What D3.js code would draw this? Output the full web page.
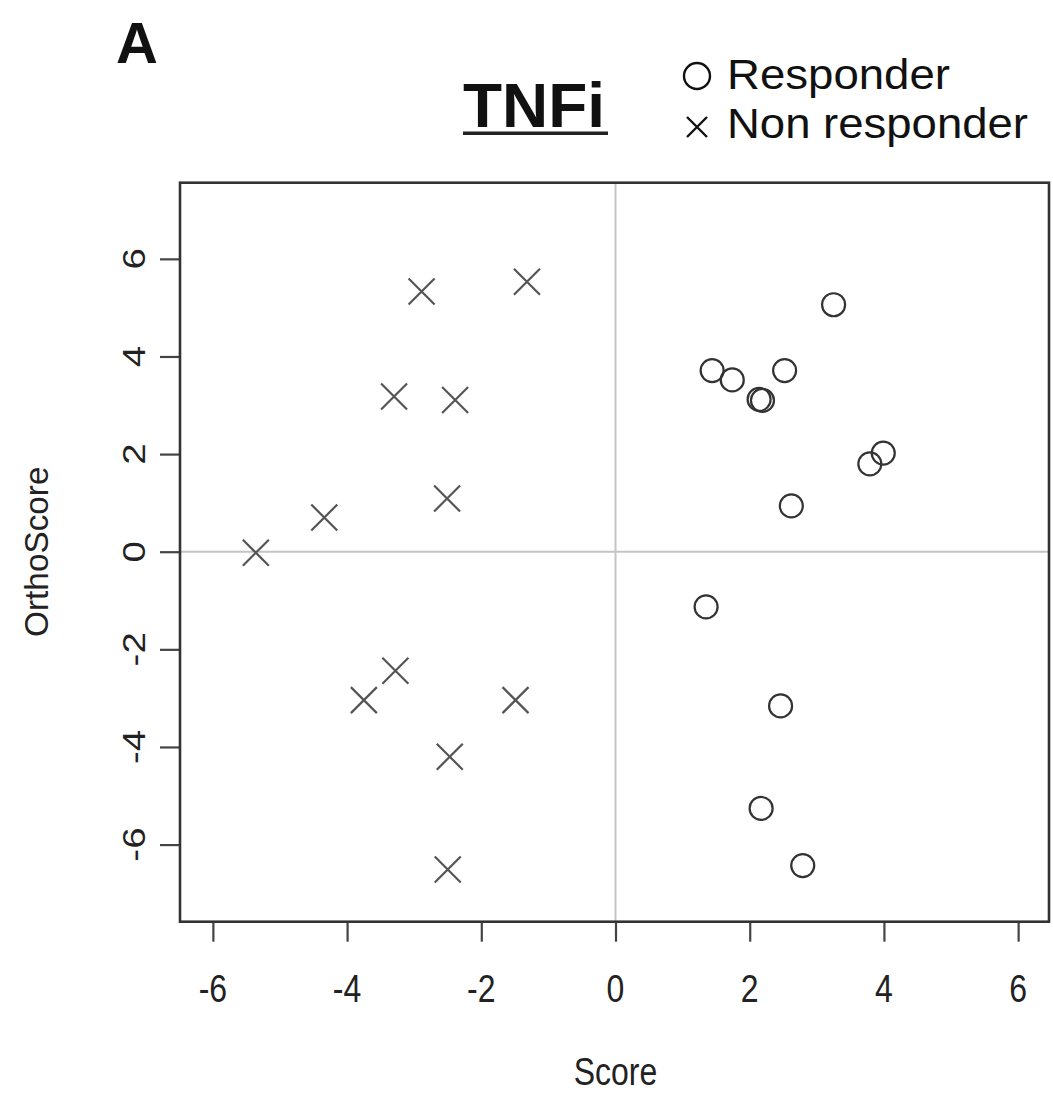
<!DOCTYPE html>
<html><head><meta charset="utf-8">
<script src="https://cdn.jsdelivr.net/npm/d3@7"></script>
<style>body{margin:0;background:#fff}svg{display:block}text{font-family:"Liberation Sans",Arial,sans-serif}</style>
</head><body>
<script>
const xTicks = [-6,-4,-2,0,2,4,6];
const yTicks = [-6,-4,-2,0,2,4,6];
const responderScore = [3.25,1.44,1.74,2.52,2.14,2.19,3.79,3.99,2.62,1.35,2.46,2.17,2.79];
const responderOrtho = [5.06,3.71,3.52,3.71,3.12,3.10,1.80,2.02,0.94,-1.13,-3.16,-5.26,-6.43];
const nonScore = [-2.89,-1.32,-3.30,-2.39,-2.51,-4.34,-5.36,-3.28,-3.75,-1.49,-2.47,-2.50];
const nonOrtho = [5.33,5.53,3.18,3.11,1.09,0.70,-0.02,-2.44,-3.04,-3.04,-4.20,-6.51];
const legendLabels = ["Responder","Non responder"];
const titleText = "TNFi";
const panelLabel = "A";

const W=1053,H=1093;
const svg=d3.select("body").append("svg").attr("width",W).attr("height",H);
const L=180,R=1049,T=182.7,B=921.7;
const x=d3.scaleLinear().domain([-6.49,6.46]).range([L,R]);
const y=d3.scaleLinear().domain([-7.58,7.56]).range([B,T]);
const ink="#2a2a2a";

// crosshair
svg.append("line").attr("x1",x(0)).attr("x2",x(0)).attr("y1",T).attr("y2",B).attr("stroke","#c4c4c4").attr("stroke-width",2);
svg.append("line").attr("x1",L).attr("x2",R).attr("y1",y(0)).attr("y2",y(0)).attr("stroke","#c4c4c4").attr("stroke-width",2);

// axes ticks
const gx=svg.append("g").attr("transform",`translate(0,${B})`)
  .call(d3.axisBottom(x).tickValues(xTicks).tickSize(20).tickFormat(""));
const gy=svg.append("g").attr("transform",`translate(${L},0)`)
  .call(d3.axisLeft(y).tickValues(yTicks).tickSize(20).tickFormat(""));
[gx,gy].forEach(g=>{g.select(".domain").remove();g.selectAll("line").attr("stroke","#444").attr("stroke-width",2.2);});

// box
svg.append("rect").attr("x",L).attr("y",T).attr("width",R-L).attr("height",B-T)
  .attr("fill","none").attr("stroke","#333").attr("stroke-width",2.6);

// tick labels
svg.append("g").selectAll("text").data(xTicks).join("text")
  .attr("transform",d=>`translate(${x(d)},1002) scale(1,1.2)`)
  .attr("text-anchor","middle").attr("font-size",32).attr("fill","#222").text(d=>d);
svg.append("g").selectAll("text").data(yTicks).join("text")
  .attr("transform",d=>`translate(145,${y(d)}) scale(1,1.2) rotate(-90)`)
  .attr("text-anchor","middle").attr("font-size",32).attr("fill","#222").text(d=>d);

// axis labels
svg.append("text").attr("transform",`translate(${x(0)},1085) scale(1,1.2)`)
  .attr("text-anchor","middle").attr("font-size",32).attr("fill","#222").text("Score");
svg.append("text").attr("transform",`translate(48,${y(0)}) scale(1,1.2) rotate(-90)`)
  .attr("text-anchor","middle").attr("font-size",33).attr("fill","#222")
  .attr("textLength",142).attr("lengthAdjust","spacingAndGlyphs").text("OrthoScore");

// points: responders (circles)
svg.append("g").selectAll("circle").data(responderScore.map((s,i)=>[s,responderOrtho[i]])).join("circle")
  .attr("cx",d=>x(d[0])).attr("cy",d=>y(d[1])).attr("r",11.5)
  .attr("fill","none").attr("stroke","#333").attr("stroke-width",2.2);
// non responders (crosses)
const cs=13;
svg.append("g").selectAll("path").data(nonScore.map((s,i)=>[s,nonOrtho[i]])).join("path")
  .attr("d",d=>{const cx=x(d[0]),cy=y(d[1]);return `M${cx-cs},${cy-cs}L${cx+cs},${cy+cs}M${cx-cs},${cy+cs}L${cx+cs},${cy-cs}`;})
  .attr("stroke","#555").attr("stroke-width",2.2).attr("fill","none");

// panel label & title
svg.append("text").attr("x",116).attr("y",63).attr("font-size",58).attr("font-weight","bold").attr("fill","#111").text(panelLabel);
svg.append("text").attr("transform","translate(463,127) scale(1,1.2)").attr("font-size",52).attr("font-weight","bold")
  .attr("fill","#111").attr("textLength",142).attr("lengthAdjust","spacingAndGlyphs").text(titleText);
svg.append("rect").attr("x",463).attr("y",131.5).attr("width",145).attr("height",3.5).attr("fill","#222");

// legend
svg.append("circle").attr("cx",697).attr("cy",76).attr("r",13).attr("fill","none").attr("stroke","#111").attr("stroke-width",2.4);
svg.append("path").attr("d","M687,117L707,137M687,137L707,117").attr("stroke","#111").attr("stroke-width",2.4);
const legW=[223,301];
svg.append("g").selectAll("text").data(legendLabels).join("text")
  .attr("transform",(d,i)=>`translate(727,${89+i*49}) scale(1,1.15)`)
  .attr("font-size",37).attr("fill","#111")
  .attr("textLength",(d,i)=>legW[i]).attr("lengthAdjust","spacingAndGlyphs").text(d=>d);
</script>
</body></html>
